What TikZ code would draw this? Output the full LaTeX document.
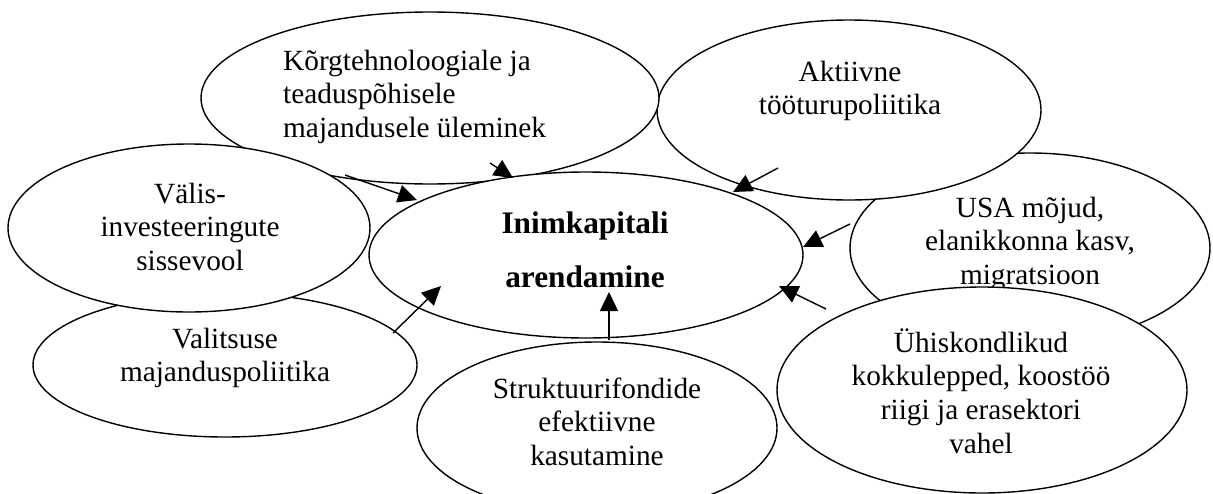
\documentclass[tikz,border=0pt]{standalone}
\usepackage{fontspec}
\setmainfont{Liberation Serif}
\usetikzlibrary{shapes.geometric,arrows.meta}
\newcommand{\linesC}[1]{\begin{tabular}[t]{@{}c@{}}#1\end{tabular}}
\newcommand{\linesL}[1]{\begin{tabular}[t]{@{}l@{}}#1\end{tabular}}
\begin{document}
\begin{tikzpicture}[x=1pt,y=-1pt,
  oval/.style={ellipse, draw, fill=white, line width=1.4pt, inner sep=0pt},
  lbl/.style={inner sep=0pt, anchor=base, font=\fontsize{29.3}{33.7}\selectfont},
  blbl/.style={inner sep=0pt, anchor=base, font=\fontsize{31.3}{54}\selectfont\bfseries},
  arr/.style={line width=1.4pt, -{Triangle[length=19pt,width=18pt]}}]
\useasboundingbox (0,0) rectangle (1213,493);
% USA
\node[oval, minimum width=360pt, minimum height=190pt] (U) at (1030,248) {};
\node[lbl] (Ut) at (1030,217) {\linesC{USA mõjud,\\elanikkonna kasv,\\migratsioon}};
% Aktiivne
\node[oval, minimum width=384pt, minimum height=180pt] (A) at (849,110) {};
\node[lbl] (At) at (850,81) {\linesC{Aktiivne\\tööturupoliitika}};
% Korgtehnoloogiale
\node[oval, minimum width=458pt, minimum height=172pt] (K) at (430,98) {};
\node[lbl, anchor=base west] (Kt) at (283,70) {\linesL{Kõrgtehnoloogiale ja\\teaduspõhisele\\majandusele üleminek}};
% Valitsuse
\node[oval, minimum width=384pt, minimum height=144pt] (Va) at (225,365) {};
\node[lbl] (Vat) at (225,348) {\linesC{Valitsuse\\majanduspoliitika}};
% Valis
\node[oval, minimum width=362pt, minimum height=168pt] (V) at (189,228) {};
\node[lbl] (Vt) at (190,203) {\linesC{Välis-\\investeeringute\\sissevool}};
% Central
\node[oval, minimum width=434pt, minimum height=166pt] (C) at (586,255) {};
\node[blbl] (Ct) at (585,233) {\linesC{Inimkapitali\\arendamine}};
% Struktuurifondide
\node[oval, minimum width=360pt, minimum height=172pt] (S) at (597,428) {};
\node[lbl] (St) at (597,398) {\linesC{Struktuurifondide\\efektiivne\\kasutamine}};
% Uhiskondlikud
\node[oval, minimum width=410pt, minimum height=206pt] (H) at (982,390) {};
\node[lbl] (Ht) at (981,352) {\linesC{Ühiskondlikud\\kokkulepped, koostöö\\riigi ja erasektori\\vahel}};
% connector ends
\coordinate (k1) at (490,163); \coordinate (k2) at (513,178);
\coordinate (v1) at (345,175); \coordinate (v2) at (417,200);
\coordinate (a1) at (778,168); \coordinate (a2) at (733,192);
\coordinate (u1) at (850,224); \coordinate (u2) at (803,247);
\coordinate (h1) at (826,309); \coordinate (h2) at (779,286);
\coordinate (s1) at (609,340); \coordinate (s2) at (609,292);
\coordinate (g1) at (393,333); \coordinate (g2) at (441,286);
\draw[arr] (k1) -- (k2);
\draw[arr] (v1) -- (v2);
\draw[arr] (a1) -- (a2);
\draw[arr] (u1) -- (u2);
\draw[arr] (h1) -- (h2);
\draw[arr] (s1) -- (s2);
\draw[arr] (g1) -- (g2);
\end{tikzpicture}
\end{document}
